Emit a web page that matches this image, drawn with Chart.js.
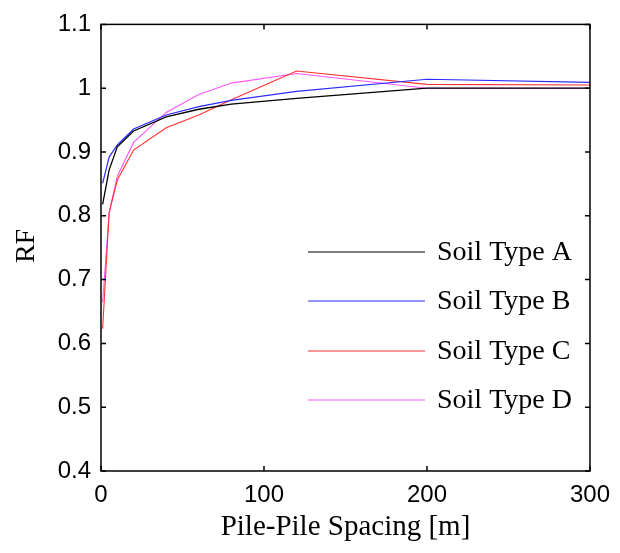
<!DOCTYPE html>
<html lang="en">
<head>
    <meta charset="UTF-8">
    <title>RF vs Pile-Pile Spacing</title>
    <style>
        body {
            margin: 0;
            padding: 0;
            background: #fff;
        }
        #wrap {
            width: 620px;
            height: 553px;
        }
    </style>
    <script src="https://cdn.jsdelivr.net/npm/chart.js"></script>
</head>
<body>
    <div id="wrap">
        <canvas id="rfChart" width="620" height="553"></canvas>
    </div>
    <script>
        // spacing values (m) and RF for each soil type
        var spacing = [1, 5, 10, 20, 40, 60, 80, 120, 200, 300];
        var soilA = [0.818, 0.872, 0.908, 0.933, 0.955, 0.967, 0.975, 0.984, 1.000, 1.000];
        var soilB = [0.851, 0.892, 0.911, 0.936, 0.958, 0.971, 0.981, 0.995, 1.014, 1.009];
        var soilC = [0.623, 0.805, 0.856, 0.903, 0.938, 0.958, 0.982, 1.027, 1.006, 1.005];
        var soilD = [0.664, 0.805, 0.862, 0.915, 0.962, 0.990, 1.008, 1.023, 1.000, 1.000];
        var seriesNames = ['Soil Type A', 'Soil Type B', 'Soil Type C', 'Soil Type D'];
        var xTicks = [0, 100, 200, 300];
        var yTicks = [0.4, 0.5, 0.6, 0.7, 0.8, 0.9, 1, 1.1];

        var colors = ['#000000', '#2b2bff', '#ff3030', '#ff55ff'];

        function pts(ys) {
            return spacing.map(function (x, i) { return { x: x, y: ys[i] }; });
        }

        // box, inward ticks, axis titles and legend drawn over the plot
        var decor = {
            id: 'decor',
            afterDraw: function (chart) {
                var c = chart.ctx;
                var a = chart.chartArea;
                var xs = chart.scales.x, ys = chart.scales.y;
                c.save();
                c.strokeStyle = '#000';
                c.lineWidth = 1.5;
                c.strokeRect(a.left, a.top, a.right - a.left, a.bottom - a.top);
                c.beginPath();
                xTicks.forEach(function (v) {
                    var px = xs.getPixelForValue(v);
                    c.moveTo(px, a.bottom); c.lineTo(px, a.bottom - 5);
                    c.moveTo(px, a.top); c.lineTo(px, a.top + 5);
                });
                yTicks.forEach(function (v) {
                    var py = ys.getPixelForValue(v);
                    c.moveTo(a.left, py); c.lineTo(a.left + 5, py);
                    c.moveTo(a.right, py); c.lineTo(a.right - 5, py);
                });
                c.stroke();

                // axis titles
                c.fillStyle = '#000';
                c.font = '29px "Liberation Serif", "Times New Roman", serif';
                c.textAlign = 'center';
                c.textBaseline = 'alphabetic';
                c.fillText('Pile-Pile Spacing [m]', (a.left + a.right) / 2, 535);
                c.save();
                c.translate(34, 246);
                c.rotate(-Math.PI / 2);
                c.font = '28px "Liberation Serif", "Times New Roman", serif';
                c.fillText('RF', 0, 0);
                c.restore();

                // legend
                c.font = '28px "Liberation Serif", "Times New Roman", serif';
                c.textAlign = 'left';
                c.textBaseline = 'middle';
                var rowY = [252, 301, 351, 400];
                chart.data.datasets.forEach(function (ds, i) {
                    c.strokeStyle = ds.borderColor;
                    c.lineWidth = 1.2;
                    c.beginPath();
                    c.moveTo(308, rowY[i]);
                    c.lineTo(425, rowY[i]);
                    c.stroke();
                    c.fillText(ds.label, 437, rowY[i] + 1);
                });
                c.restore();
            }
        };

        var ctx = document.getElementById('rfChart').getContext('2d');
        var rfChart = new Chart(ctx, {
            type: 'line',
            data: {
                datasets: [
                    { label: seriesNames[0], data: pts(soilA), borderColor: colors[0], borderWidth: 1.3 },
                    { label: seriesNames[1], data: pts(soilB), borderColor: colors[1], borderWidth: 1.2 },
                    { label: seriesNames[2], data: pts(soilC), borderColor: colors[2], borderWidth: 1.1 },
                    { label: seriesNames[3], data: pts(soilD), borderColor: colors[3], borderWidth: 1.1 }
                ]
            },
            options: {
                responsive: false,
                animation: false,
                events: [],
                layout: { padding: { top: 18, right: 28, left: 0, bottom: 0 } },
                elements: {
                    point: { radius: 0 },
                    line: { tension: 0, fill: false }
                },
                plugins: {
                    legend: { display: false },
                    tooltip: { enabled: false }
                },
                scales: {
                    x: {
                        type: 'linear',
                        min: 0,
                        max: 300,
                        afterFit: function (s) { s.height = 82; },
                        afterBuildTicks: function (s) {
                            s.ticks = xTicks.map(function (v) { return { value: v }; });
                        },
                        grid: { display: false, drawTicks: false },
                        border: { display: false },
                        ticks: {
                            padding: 10,
                            color: '#000',
                            maxRotation: 0,
                            font: { family: '"Liberation Sans", Arial, sans-serif', size: 24 }
                        }
                    },
                    y: {
                        min: 0.4,
                        max: 1.1,
                        afterFit: function (s) { s.width = 101; },
                        afterBuildTicks: function (s) {
                            s.ticks = yTicks.map(function (v) { return { value: v }; });
                        },
                        grid: { display: false, drawTicks: false },
                        border: { display: false },
                        ticks: {
                            padding: 10,
                            color: '#000',
                            font: { family: '"Liberation Sans", Arial, sans-serif', size: 24 },
                            callback: function (v) { return String(Math.round(v * 10) / 10); }
                        }
                    }
                }
            },
            plugins: [decor]
        });
    </script>
</body>
</html>
